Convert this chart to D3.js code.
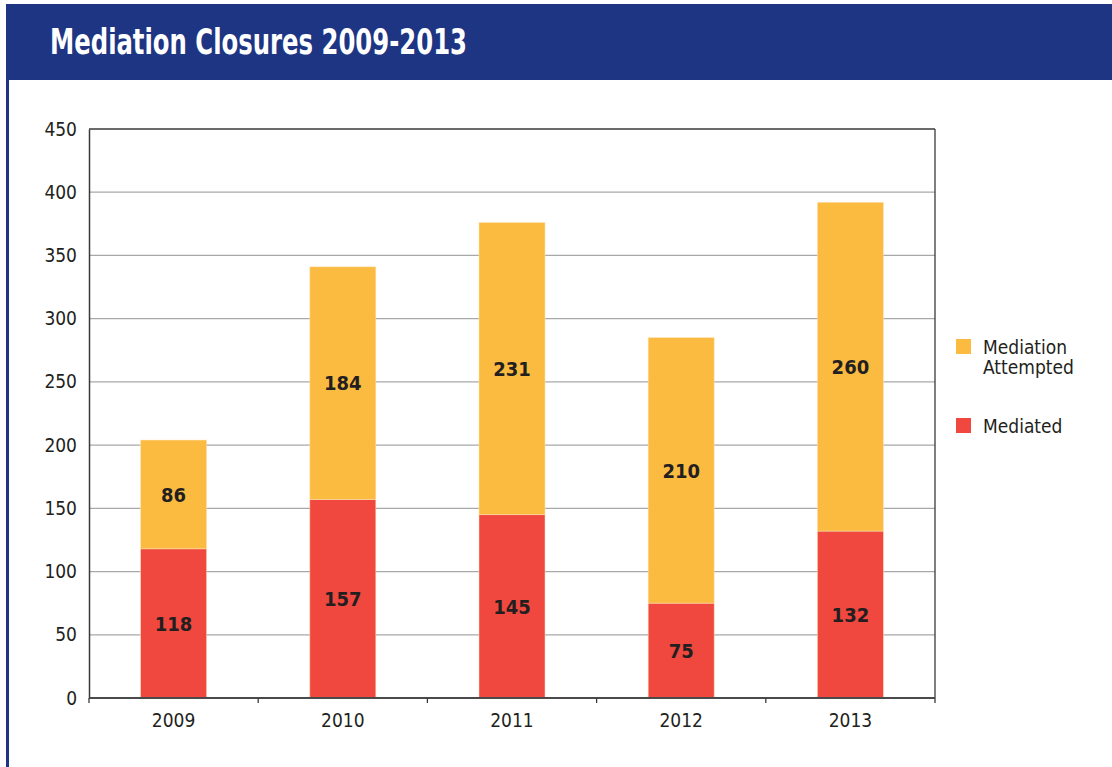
<!DOCTYPE html>
<html>
<head>
<meta charset="utf-8">
<script src="https://cdn.jsdelivr.net/npm/d3@7"></script>
<style>
  html, body { margin: 0; padding: 0; background: #fff; }
  svg { display: block; }
  text { font-family: "Liberation Sans Narrow", "DejaVu Sans Condensed", "Roboto Condensed", sans-serif; }
</style>
</head>
<body>
<svg id="chart" width="1112" height="767"></svg>
<script>
// Mediation closures by year
const years = ["2009", "2010", "2011", "2012", "2013"];
const mediated = [118, 157, 145, 75, 132];
const attempted = [86, 184, 231, 210, 260];
const seriesNames = ["Mediated", "Mediation Attempted"];
const yTicks = [0, 50, 100, 150, 200, 250, 300, 350, 400, 450];
const title = "Mediation Closures 2009-2013";

const colors = { "Mediated": "#f0483e", "Mediation Attempted": "#fbbb40" };

const svg = d3.select("#chart");
const W = 1112, H = 767;
const plot = { left: 89, right: 935, top: 129, bottom: 698 };

// Header band and frame edge
svg.append("rect").attr("x", 6).attr("y", 4).attr("width", W - 6).attr("height", 76).attr("fill", "#1e3584");
svg.append("rect").attr("x", 6).attr("y", 80).attr("width", 3).attr("height", H - 80).attr("fill", "#1e3584");
svg.append("text").attr("x", 50).attr("y", 54)
  .attr("fill", "#fff").attr("font-size", 36).attr("font-weight", "bold")
  .attr("textLength", 417).attr("lengthAdjust", "spacingAndGlyphs")
  .text(title);

const x = d3.scaleBand().domain(years).range([plot.left, plot.right]).paddingInner(0.61).paddingOuter(0.305);
const xOuter = d3.scaleBand().domain(years).range([plot.left, plot.right]);
const y = d3.scaleLinear().domain([0, 450]).range([plot.bottom, plot.top]);

// Gridlines
svg.append("g").selectAll("line").data(yTicks.filter(d => d > 0 && d < 450)).join("line")
  .attr("x1", plot.left).attr("x2", plot.right)
  .attr("y1", d => y(d)).attr("y2", d => y(d))
  .attr("stroke", "#a8a8a8").attr("stroke-width", 1.3);

// Stacked bars
const rows = years.map((yr, i) => ({ year: yr, "Mediated": mediated[i], "Mediation Attempted": attempted[i] }));
const stack = d3.stack().keys(seriesNames)(rows);

const layers = svg.append("g").selectAll("g").data(stack).join("g")
  .attr("fill", d => colors[d.key]);
layers.selectAll("rect").data(d => d).join("rect")
  .attr("x", d => x(d.data.year))
  .attr("width", x.bandwidth())
  .attr("y", d => y(d[1]))
  .attr("height", d => y(d[0]) - y(d[1]))
  .attr("stroke", "#fde3b8").attr("stroke-width", 0.8).attr("stroke-opacity", 0.6);

// Segment value labels
layers.selectAll("text").data(d => d).join("text")
  .attr("x", d => x(d.data.year) + x.bandwidth() / 2)
  .attr("y", d => y((d[0] + d[1]) / 2))
  .attr("dy", "0.36em")
  .attr("text-anchor", "middle")
  .attr("font-size", 20).attr("font-weight", "bold").attr("fill", "#231f20")
  .text(d => d[1] - d[0]);

// Plot frame (top and right)
svg.append("line").attr("x1", plot.left).attr("x2", plot.right).attr("y1", plot.top).attr("y2", plot.top)
  .attr("stroke", "#3a3a3a").attr("stroke-width", 1.3);
svg.append("line").attr("x1", plot.right).attr("x2", plot.right).attr("y1", plot.top).attr("y2", plot.bottom)
  .attr("stroke", "#3a3a3a").attr("stroke-width", 1.3);

// Y axis
const yAxis = svg.append("g").attr("transform", `translate(${plot.left},0)`)
  .call(d3.axisLeft(y).tickValues(yTicks).tickSize(0).tickPadding(12));
yAxis.select(".domain").attr("stroke", "#3a3a3a").attr("stroke-width", 1.5);
yAxis.selectAll("text").attr("font-size", 19).attr("fill", "#231f20").attr("font-family", null);

// X axis with ticks at category boundaries
const xAxis = svg.append("g").attr("transform", `translate(0,${plot.bottom})`);
xAxis.append("line").attr("x1", plot.left).attr("x2", plot.right).attr("y1", 0).attr("y2", 0)
  .attr("stroke", "#4a4a4a").attr("stroke-width", 2);
const bounds = years.map(d => xOuter(d)).concat([plot.right]);
xAxis.selectAll("line.tick").data(bounds).join("line").attr("class", "tick")
  .attr("x1", d => d).attr("x2", d => d).attr("y1", 0).attr("y2", 5)
  .attr("stroke", "#3a3a3a").attr("stroke-width", 1.3);
xAxis.selectAll("text").data(years).join("text")
  .attr("x", d => xOuter(d) + xOuter.bandwidth() / 2)
  .attr("y", 29)
  .attr("text-anchor", "middle")
  .attr("font-size", 19).attr("fill", "#231f20")
  .text(d => d);

// Legend
const legend = svg.append("g").attr("transform", "translate(956,339)");
const legendItems = [
  { key: "Mediation Attempted", lines: ["Mediation", "Attempted"], dy: 0 },
  { key: "Mediated", lines: ["Mediated"], dy: 79 }
];
const li = legend.selectAll("g").data(legendItems).join("g").attr("transform", d => `translate(0,${d.dy})`);
li.append("rect").attr("width", 15).attr("height", 15).attr("fill", d => colors[d.key]);
li.each(function(d) {
  const t = d3.select(this).append("text").attr("x", 27).attr("y", 15)
    .attr("font-size", 19).attr("fill", "#231f20");
  d.lines.forEach((s, i) => t.append("tspan").attr("x", 27).attr("dy", i === 0 ? 0 : 20).text(s));
});
</script>
</body>
</html>
